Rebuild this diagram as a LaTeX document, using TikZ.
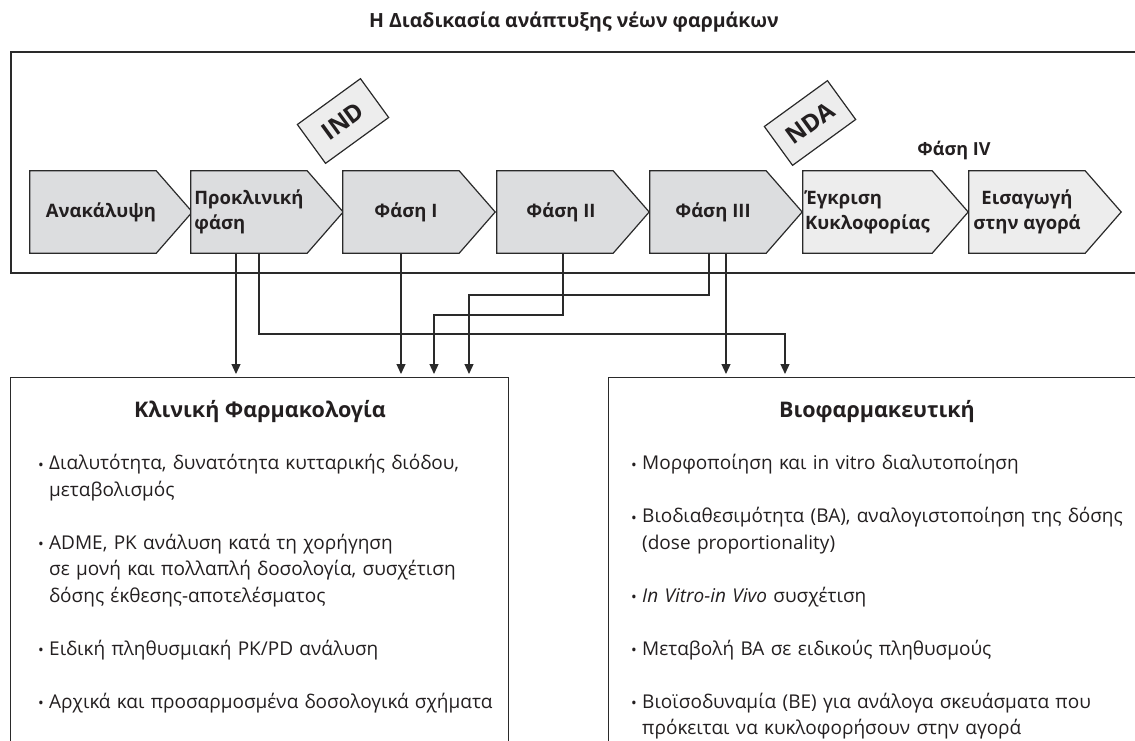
\documentclass[tikz,border=0pt]{standalone}
\usepackage{fontspec}
\setmainfont{Open Sans}
\usepackage{graphicx}
\usetikzlibrary{arrows.meta,backgrounds}
\definecolor{ink}{HTML}{231F20}
\definecolor{chevA}{HTML}{DCDDDF}
\definecolor{chevB}{HTML}{EDEDED}
\definecolor{edge}{HTML}{2A2A2A}
\newcommand{\blt}{\makebox[11pt][l]{\raisebox{-0.3pt}{\scalebox{0.8}{•}}}}
\newcommand{\itm}{\hangindent=11pt\hangafter=1\relax\blt}
\newcommand{\gap}{\par\vspace{26.5pt}}
\newcommand{\nl}{\hfil\break}
\begin{document}
\begin{tikzpicture}[x=1pt,y=-1pt,
  every node/.style={text=ink},
  chevbody/.style={minimum width=116pt, minimum height=82pt, inner sep=0pt,
    font=\fontsize{18.5}{25}\selectfont\bfseries},
  tagbox/.style={draw=edge, line width=1.2pt, fill=chevB, minimum width=78pt,
    minimum height=48pt, rotate=36, inner sep=0pt,
    font=\fontsize{24}{24}\selectfont\bfseries},
  panel/.style={draw=edge, line width=1.2pt, minimum height=420pt, inner sep=0pt,
    anchor=north west},
  paneltitle/.style={font=\fontsize{21.5}{25}\selectfont\bfseries},
  itemlist/.style={anchor=north west, inner sep=0pt, text width=495pt, align=left,
    font=\fontsize{19}{26.5}\selectfont},
  conn/.style={draw=edge, line width=1.2pt, -{Triangle[width=9pt,length=10pt]},
    shorten >=3pt},
  frameline/.style={draw=edge, line width=1.8pt}
]
\useasboundingbox (0,0) rectangle (1135,740);

% title
\node[font=\fontsize{19.5}{22}\selectfont\bfseries] (title) at (574,22)
  {Η Διαδικασία ανάπτυξης νέων φαρμάκων};

% chevrons (text bodies)
\node[chevbody] (p1) at (93,212) {\hspace*{16pt}Ανακάλυψη};
\node[chevbody, align=left] (p2) at (249,212) {Προκλινική\\φάση};
\node[chevbody] (p3) at (401,212) {\hspace*{10pt}Φάση I};
\node[chevbody] (p4) at (555,212) {\hspace*{12pt}Φάση II};
\node[chevbody] (p5) at (708,212) {\hspace*{10pt}Φάση III};
\node[chevbody, minimum width=129pt, align=left] (p6) at (867.5,212) {Έγκριση\\Κυκλοφορίας};
\node[chevbody, align=center] (p7) at (1027,212) {Εισαγωγή\\στην αγορά};

\node[tagbox] (ind) at (343,121) {IND};
\node[tagbox] (nda) at (810,123) {NDA};
\node[font=\fontsize{18}{20}\selectfont\bfseries] (ph4) at (954,150) {Φάση IV};

% panels
\node[panel, minimum width=498pt] (kf) at (10,377) {};
\node[panel, minimum width=538pt] (bf) at (608,377) {};
\node[paneltitle] (kft) at (260,412) {Κλινική Φαρμακολογία};
\node[paneltitle] (bft) at (877,412) {Βιοφαρμακευτική};

\node[itemlist] (kfl) at (38,451) {\strut\itm Διαλυτότητα, δυνατότητα κυτταρικής διόδου,\nl μεταβολισμός\gap
\itm ADME, PK ανάλυση κατά τη χορήγηση\nl σε μονή και πολλαπλή δοσολογία, συσχέτιση\nl δόσης έκθεσης-αποτελέσματος\gap
\itm Ειδική πληθυσμιακή PK/PD ανάλυση\gap
\itm Αρχικά και προσαρμοσμένα δοσολογικά σχήματα\par};

\node[itemlist] (bfl) at (631,451) {\strut\itm Μορφοποίηση και in vitro διαλυτοποίηση\gap
\itm Βιοδιαθεσιμότητα (BA), αναλογιστοποίηση της δόσης\nl (dose proportionality)\gap
\itm \textit{In Vitro-in Vivo} συσχέτιση\gap
\itm Μεταβολή BA σε ειδικούς πληθυσμούς\gap
\itm Βιοϊσοδυναμία (BE) για ανάλογα σκευάσματα που\nl πρόκειται να κυκλοφορήσουν στην αγορά\par};

% background shapes
\begin{scope}[on background layer]
\draw[frameline] (11,52) rectangle (1145,273);
\foreach \n/\c in {p1/chevA,p2/chevA,p3/chevA,p4/chevA,p5/chevA,p6/chevB,p7/chevB}
  \filldraw[fill=\c, draw=edge, line width=1.2pt]
    (\n.north west) -- (\n.north east) -- ([xshift=36pt]\n.east)
    -- (\n.south east) -- (\n.south west) -- cycle;
\end{scope}

% connectors
\coordinate (r2) at (785,334);
\coordinate (l4) at (434,315);
\coordinate (l5) at (469,295);
\draw[conn] ([xshift=-13pt]p2.south) -- ([xshift=-13pt]p2.south |- kf.north);
\draw[conn] ([xshift=10pt]p2.south) |- (r2) -- (r2 |- bf.north);
\draw[conn] (p3.south) -- (p3.south |- kf.north);
\draw[conn] ([xshift=8pt]p4.south) |- (l4) -- (l4 |- kf.north);
\draw[conn] ([xshift=1pt]p5.south) |- (l5) -- (l5 |- kf.north);
\draw[conn] ([xshift=18pt]p5.south) -- ([xshift=18pt]p5.south |- bf.north);
\end{tikzpicture}
\end{document}
